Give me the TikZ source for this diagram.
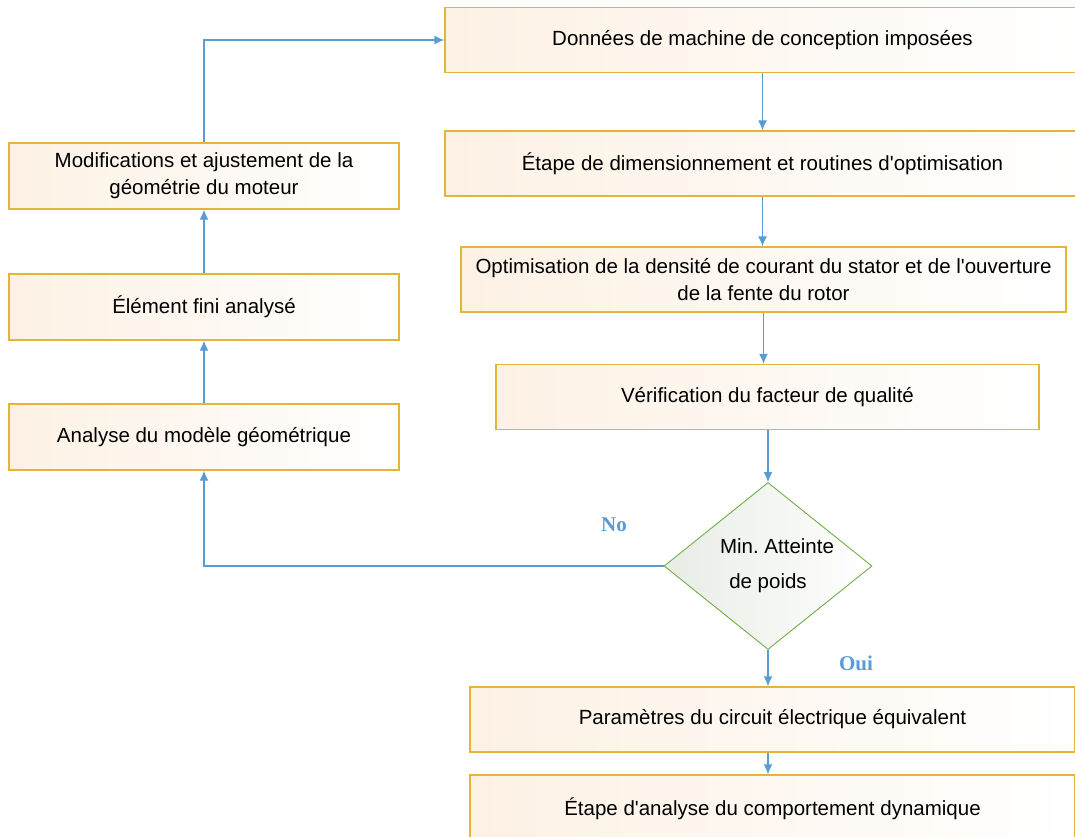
\documentclass[tikz,border=0pt]{standalone}
\usepackage{fontspec}
\setmainfont{Liberation Sans}
\newfontfamily\answerfont{Liberation Serif}
\usepackage{xcolor}
\usetikzlibrary{shapes.geometric,arrows.meta}
\definecolor{boxline}{HTML}{E5B53A}
\definecolor{boxfill}{HTML}{FDF1E4}
\definecolor{flowblue}{HTML}{5B9BD5}
\definecolor{dialine}{HTML}{70AD47}
\definecolor{diafill}{HTML}{E8ECE5}

\begin{document}
\frenchspacing
\begin{tikzpicture}[x=1pt,y=-1pt]
        \clip (0,0) rectangle (1075,837);
        \tikzstyle{every node} = [font=\fontsize{20.5}{27}\selectfont, align=center]
        \tikzstyle{stage} = [rectangle, draw=boxline, line width=1.3pt, left color=boxfill, right color=white, minimum height=65pt, inner sep=0pt]
        \tikzstyle{decision} = [diamond, draw=dialine, line width=0.9pt, left color=diafill, right color=white, aspect=1.245, minimum width=208pt, minimum height=167pt, inner sep=0pt, font=\fontsize{20.5}{35}\selectfont]
        \tikzstyle{answer} = [text=flowblue, font=\answerfont\bfseries\fontsize{21}{25}\selectfont]
        \tikzstyle{flow} = [draw=flowblue, line width=1.3pt, -{Latex[length=10pt,width=9pt]}]
        % right column
        \node[stage, minimum width=635pt] (b1) at (762.5, 40) {Données de machine de conception imposées};
        \node[stage, minimum width=635pt] (b2) at (762.5,163.5) {Étape de dimensionnement et routines d\textquotesingle optimisation};
        \node[stage, minimum width=605pt] (b3) at (763.5,279.5) {Optimisation de la densité de courant du stator et de l\textquotesingle ouverture\\de la fente du rotor};
        \node[stage, minimum width=543pt] (b4) at (767.5,397) {Vérification du facteur de qualité};
        \node[decision] (dia) at (768,566) {\hspace*{18pt}Min. Atteinte\\de poids};
        \node[stage, minimum width=605pt] (b5) at (772.5,719.5) {Paramètres du circuit électrique équivalent};
        \node[stage, minimum width=605pt, minimum height=68pt] (b6) at (772.5,809) {Étape d\textquotesingle analyse du comportement dynamique};
        % left column
        \node[stage, minimum width=390pt, minimum height=66pt] (m1) at (204,176) {Modifications et ajustement de la\\géométrie du moteur};
        \node[stage, minimum width=390pt, minimum height=66pt] (m2) at (204,307) {Élément fini analysé};
        \node[stage, minimum width=390pt, minimum height=66pt] (m3) at (204,437) {Analyse du modèle géométrique};
        \node[answer] (no) at (614,525) {No};
        \node[answer] (oui) at (856,663) {Oui};
        \foreach \from/\to/\col in {b1/b2/b1, b2/b3/b2, b3/b4/b3, b4/dia/dia, dia/b5/dia, b5/b6/dia}
            \draw[flow] (\col |- \from.south) -- (\col |- \to.north);
        \foreach \from/\to in {m3/m2, m2/m1}
            \draw[flow] (\from.north) -- (\to.south);
        \draw[flow] (dia.west) -| (m3.south);
        \draw[flow] (m1.north) |- (b1.west);
    \end{tikzpicture}
\end{document}
